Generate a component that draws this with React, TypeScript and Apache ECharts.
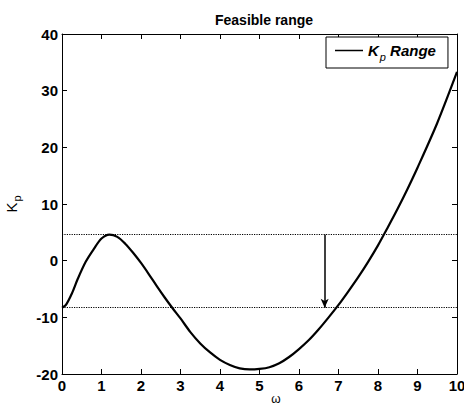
import React, { useEffect, useRef } from "react";
import * as echarts from "echarts";

const omega = [0, 0.1, 0.25, 0.4, 0.6, 0.8, 1.0, 1.2, 1.4, 1.6, 1.8, 2.0, 2.2, 2.4, 2.6, 2.8, 3.0, 3.25, 3.5, 3.75, 4.0, 4.25, 4.5, 4.75, 5.0, 5.25, 5.5, 5.75, 6.0, 6.25, 6.5, 6.75, 7.0, 7.25, 7.5, 7.75, 8.0, 8.25, 8.5, 8.75, 9.0, 9.5, 10];
const kp = [-8.3, -7.8, -5.8, -3.2, -0.2, 2.0, 3.9, 4.6, 4.2, 3.0, 1.4, -0.4, -2.4, -4.5, -6.5, -8.4, -10.2, -12.6, -14.6, -16.2, -17.5, -18.4, -19.0, -19.2, -19.1, -18.8, -18.1, -17.0, -15.6, -14.0, -12.1, -10.0, -7.8, -5.4, -2.9, -0.2, 2.7, 5.9, 9.2, 12.7, 16.4, 24.3, 33.3];
const upperBound = 4.6;
const lowerBound = -8.3;
const arrowX = 6.65;
const xTicks = { min: 0, max: 10, interval: 1 };
const yTicks = { min: -20, max: 40, interval: 10 };
const xAxisName = "ω";

const FONT = "Liberation Sans, Arial, sans-serif";

export default function App() {
  const ref = useRef<HTMLDivElement>(null);
  useEffect(() => {
    if (!ref.current) return;
    const chart = echarts.init(ref.current, null, { renderer: "svg" });
    const axisCommon = {
      axisLine: { show: true, onZero: false, lineStyle: { color: "#000", width: 1 } },
      axisTick: { show: true, inside: true, length: 5, lineStyle: { color: "#000", width: 1 } },
      splitLine: { show: false },
    };
    chart.setOption({
      animation: false,
      backgroundColor: "#fff",
      textStyle: { fontFamily: FONT },
      title: {
        text: "Feasible range",
        left: 259,
        textAlign: "center",
        top: 8,
        textStyle: { fontFamily: FONT, fontSize: 14, fontWeight: "bold", color: "#000" },
      },
      grid: { left: 62, right: 7, top: 34, bottom: 31, containLabel: false, outerBoundsMode: "none" },
      graphic: [
        {
          type: "text",
          x: 276,
          y: 404,
          silent: true,
          style: {
            text: xAxisName,
            fontFamily: FONT,
            fontSize: 12,
            lineHeight: 11,
            fill: "#000",
            textAlign: "center",
            textVerticalAlign: "bottom",
          },
        },
      ],
      legend: {
        data: ["Kp Range"],
        left: 326,
        top: 37,
        orient: "horizontal",
        backgroundColor: "#fff",
        borderColor: "#000",
        borderWidth: 1,
        borderRadius: 0,
        padding: [6, 12, 6, 9],
        icon: "rect",
        itemWidth: 28,
        itemHeight: 1.5,
        itemGap: 10,
        formatter: () => "{k|K}{s|p}{r| Range}",
        textStyle: {
          color: "#000",
          rich: {
            k: { fontFamily: FONT, fontSize: 15, fontStyle: "italic", fontWeight: "bold", color: "#000" },
            s: { fontFamily: FONT, fontSize: 11, fontStyle: "italic", color: "#000", verticalAlign: "top", padding: [12, 0, 0, 1] },
            r: { fontFamily: FONT, fontSize: 15, fontStyle: "italic", fontWeight: "bold", color: "#000" },
          },
        },
      },
      xAxis: [
        {
          type: "value",
          position: "bottom",
          ...xTicks,
          ...axisCommon,
          axisLabel: { fontFamily: FONT, fontSize: 15, lineHeight: 14, fontWeight: "bold", color: "#000", margin: 4 },
        },
        {
          type: "value",
          position: "top",
          ...xTicks,
          ...axisCommon,
          axisLabel: { show: false },
        },
      ],
      yAxis: [
        {
          type: "value",
          position: "left",
          ...yTicks,
          ...axisCommon,
          name: "{k|K}{s|p}",
          nameLocation: "middle",
          nameRotate: 90,
          nameGap: 40,
          nameMoveOverlap: false,
          nameTextStyle: {
            rich: {
              k: { fontFamily: FONT, fontSize: 15, color: "#000" },
              s: { fontFamily: FONT, fontSize: 11, color: "#000", verticalAlign: "top", padding: [11, 0, 0, 1] },
            },
          },
          axisLabel: { fontFamily: FONT, fontSize: 15, fontWeight: "bold", color: "#000", margin: 4 },
        },
        {
          type: "value",
          position: "right",
          ...yTicks,
          ...axisCommon,
          axisLabel: { show: false },
        },
      ],
      series: [
        {
          name: "Kp Range",
          type: "line",
          xAxisIndex: 0,
          yAxisIndex: 0,
          data: omega.map((w, i) => [w, kp[i]]),
          smooth: 0.3,
          symbol: "none",
          lineStyle: { color: "#000", width: 2.2 },
          itemStyle: { color: "#000" },
          markLine: {
            silent: true,
            symbol: "none",
            label: { show: false },
            lineStyle: { color: "#000", type: "dotted", width: 1.2 },
            data: [
              { yAxis: upperBound },
              { yAxis: lowerBound },
              [
                { coord: [arrowX, upperBound], symbol: "none" },
                {
                  coord: [arrowX, lowerBound],
                  symbol: "arrow",
                  symbolSize: [6, 9],
                  lineStyle: { type: "solid", width: 1.5, color: "#000" },
                },
              ],
            ],
          },
        },
      ],
    });
    return () => chart.dispose();
  }, []);
  return <div ref={ref} style={{ position: "absolute", left: 0, top: 0, width: 464, height: 405 }} />;
}
